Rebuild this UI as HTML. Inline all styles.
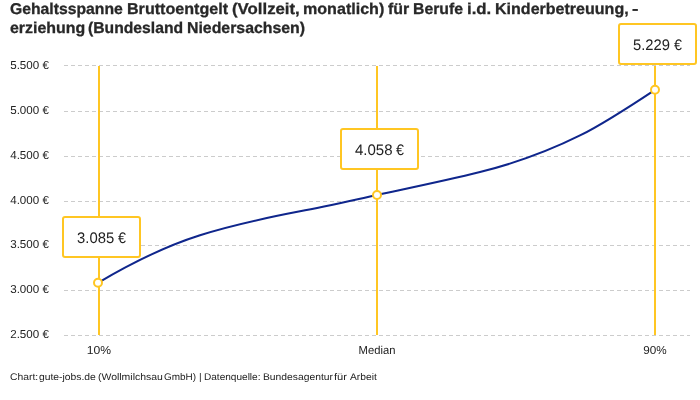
<!DOCTYPE html>
<html>
<head>
<meta charset="utf-8">
<style>
html,body{margin:0;padding:0;background:#fff;}
body{width:700px;height:400px;position:relative;overflow:hidden;font-family:"Liberation Sans",sans-serif;text-rendering:geometricPrecision;}
.t{position:absolute;white-space:nowrap;}
#w{position:absolute;left:0;top:0;width:700px;height:400px;will-change:transform;}
.tl{position:absolute;left:0;width:700px;height:18px;font-weight:bold;font-size:16px;color:#282828;line-height:18px;}
.tl span{position:absolute;top:0;white-space:nowrap;transform-origin:0 14px;-webkit-text-stroke:0.3px #282828;}
.yl{position:absolute;left:0;width:48.9px;text-align:right;font-size:11.6px;color:#222;white-space:nowrap;line-height:12px;}
.xl{position:absolute;font-size:11.5px;color:#222;white-space:nowrap;line-height:12px;text-align:center;width:80px;}
.v{position:absolute;font-size:15px;line-height:15px;color:#222;white-space:nowrap;transform-origin:0 12.7px;}
.foot{position:absolute;left:10px;top:372.2px;width:680px;height:12px;font-size:10.15px;color:#222;white-space:nowrap;line-height:12px;transform:scaleY(0.95);transform-origin:0 9.5px;}
.foot span{position:absolute;top:0;transform-origin:0 0;}
svg{position:absolute;left:0;top:0;}
</style>
</head>
<body>
<div id="w">
<div class="tl" style="top:0.5px"><span style="left:9.99px;transform:scale(0.9835,0.975)">Gehaltsspanne</span><span style="left:126.80px;transform:scale(1.0059,0.975)">Bruttoentgelt</span><span style="left:231.55px;transform:scale(1.0494,0.975)">(Vollzeit,</span><span style="left:302.59px;transform:scale(1.0051,0.975)">monatlich)</span><span style="left:387.80px;transform:scale(0.9968,0.975)">für</span><span style="left:413.22px;transform:scale(0.9856,0.975)">Berufe</span><span style="left:466.90px;transform:scale(1.0504,0.975)">i.d.</span><span style="left:494.60px;transform:scale(1.0024,0.975)">Kinderbetreuung,</span><span style="left:631.63px;transform:scale(1.2143,0.975)">-</span></div>
<div class="tl" style="top:19.5px"><span style="left:10.04px;transform:scale(0.9939,0.975)">erziehung</span><span style="left:88.20px;transform:scale(0.9814,0.975)">(Bundesland</span><span style="left:186.82px;transform:scale(0.9909,0.975)">Niedersachsen)</span></div>

<svg width="700" height="400" viewBox="0 0 700 400">
  <g stroke="#cccccc" stroke-width="1" stroke-dasharray="4 3" fill="none">
    <line x1="64" y1="65.5" x2="690" y2="65.5"/>
    <line x1="64" y1="111.5" x2="690" y2="111.5"/>
    <line x1="64" y1="156.5" x2="690" y2="156.5"/>
    <line x1="64" y1="201.5" x2="690" y2="201.5"/>
    <line x1="64" y1="245.5" x2="690" y2="245.5"/>
    <line x1="64" y1="290.5" x2="690" y2="290.5"/>
    <line x1="64" y1="335.5" x2="690" y2="335.5"/>
  </g>
  <g stroke="#ffc623" stroke-width="2" fill="none">
    <line x1="99" y1="66" x2="99" y2="335"/>
    <line x1="377" y1="66" x2="377" y2="335"/>
    <line x1="655" y1="66" x2="655" y2="335"/>
  </g>
  <path d="M98.00,282.80 C132.00,262.70 166.00,245.94 200.00,235.23 C233.33,224.72 266.67,217.72 300.00,211.33 C325.67,206.42 351.33,200.55 377.00,195.00 C411.33,187.58 445.67,180.59 480.00,172.03 C513.33,163.72 546.67,152.09 580.00,135.47 C605.00,123.01 630.00,106.41 655.00,89.80" fill="none" stroke="#0f268c" stroke-width="2"/>
  <g stroke="#ffc623" stroke-width="2" fill="#fff">
    <circle cx="98" cy="282.8" r="4"/>
    <circle cx="377" cy="195" r="4"/>
    <circle cx="655" cy="89.8" r="4"/>
    <rect x="63" y="217" width="77" height="40" rx="2"/>
    <rect x="341" y="129" width="77" height="40" rx="2"/>
    <rect x="619" y="24" width="77" height="40" rx="2"/>
  </g>
</svg>


<span class="v" style="top:230.55px;left:76.75px;transform:scale(0.99,1.02)">3.085</span><span class="v" style="top:230.55px;left:117.73px;transform:scale(0.956,1.02)">€</span>
<span class="v" style="top:142.55px;left:354.64px;transform:scale(1.0005,1.02)">4.058</span><span class="v" style="top:142.55px;left:395.73px;transform:scale(0.956,1.02)">€</span>
<span class="v" style="top:37.55px;left:632.98px;transform:scale(0.987,1.02)">5.229</span><span class="v" style="top:37.55px;left:673.73px;transform:scale(0.956,1.02)">€</span>
<div class="yl" style="top:59.90px">5.500 €</div>
<div class="yl" style="top:104.90px">5.000 €</div>
<div class="yl" style="top:149.90px">4.500 €</div>
<div class="yl" style="top:194.90px">4.000 €</div>
<div class="yl" style="top:238.90px">3.500 €</div>
<div class="yl" style="top:283.90px">3.000 €</div>
<div class="yl" style="top:328.90px">2.500 €</div>

<div class="xl" style="left:58.55px;top:345.00px;transform:scaleX(1.057)">10%</div>
<div class="xl" style="left:336.8px;top:345.00px;transform:scaleX(0.975)">Median</div>
<div class="xl" style="left:615px;top:345.00px;transform:scaleX(1.02)">90%</div>

<div class="foot"><span style="left:-0.26px;transform:scaleX(1.0202)">Chart:</span><span style="left:29.23px;transform:scaleX(1.0199)">gute-jobs.de</span><span style="left:87.93px;transform:scaleX(1.0321)">(Wollmilchsau</span><span style="left:154.46px;transform:scaleX(0.9827)">GmbH)</span><span style="left:194.18px;transform:scaleX(0.9938)">Datenquelle:</span><span style="left:253.46px;transform:scaleX(1.0178)">Bundesagentur</span><span style="left:324.22px;transform:scaleX(1.0989)">für</span><span style="left:339.76px;transform:scaleX(1.0126)">Arbeit</span><span style="left:189.1px">|</span></div>
</div>
</body>
</html>
